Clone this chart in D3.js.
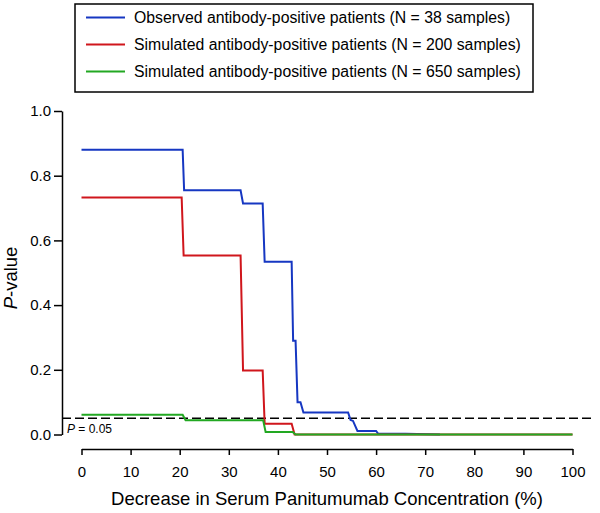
<!DOCTYPE html>
<html><head><meta charset="utf-8">
<script src="https://cdn.jsdelivr.net/npm/d3@7"></script>
<style>body{margin:0;background:#fff}svg{display:block;font-family:"Liberation Sans",Arial,sans-serif}</style>
</head><body><svg id="c" width="600" height="513"></svg>
<script>
const seriesNames = [
  "Observed antibody-positive patients (N = 38 samples)",
  "Simulated antibody-positive patients (N = 200 samples)",
  "Simulated antibody-positive patients (N = 650 samples)"
];
const seriesColors = ["#1637c2", "#d0161c", "#22a822"];
const observedX = [0,20.6,20.9,32.4,32.9,36.9,37.3,42.8,43.1,43.6,44.0,44.6,45.2,54.3,54.8,55.3,56.2,60.0,60.4,66.0,73.0];
const observedP = [0.88,0.88,0.755,0.755,0.714,0.714,0.534,0.534,0.29,0.29,0.10,0.10,0.068,0.068,0.045,0.042,0.011,0.011,0.003,0.002,0.0];
const sim200X = [0,20.4,20.8,32.4,32.9,36.9,37.3,42.8,43.4,100];
const sim200P = [0.733,0.733,0.553,0.553,0.198,0.198,0.033,0.033,0.0,0.0];
const sim650X = [0,20.6,21.2,37.0,37.5,43.0,43.6,100];
const sim650P = [0.061,0.061,0.044,0.044,0.008,0.008,0.0,0.0];
const xTicks = [0,10,20,30,40,50,60,70,80,90,100];
const yTicks = [0,0.2,0.4,0.6,0.8,1.0];
const threshold = 0.05;

const svg = d3.select("#c");
const x = d3.scaleLinear().domain([0,100]).range([81.5,572.5]);
const y = d3.scaleLinear().domain([0,1]).range([434.5,111]);

const ya = svg.append("g").attr("transform","translate(62,0)")
  .call(d3.axisLeft(y).tickValues(yTicks).tickFormat(d3.format(".1f")).tickSize(8).tickSizeOuter(0).tickPadding(3));
const xa = svg.append("g").attr("transform","translate(0,449)")
  .call(d3.axisBottom(x).tickValues(xTicks).tickSize(6).tickSizeOuter(0).tickPadding(11.5));
[ya,xa].forEach(a=>{
  a.selectAll("path,line").attr("stroke","#000").attr("stroke-width",1.5);
  a.selectAll("text").attr("font-size",15).attr("fill","#000").attr("font-family","'Liberation Sans',Arial,sans-serif");
});

svg.append("line").attr("x1",62).attr("x2",594).attr("y1",y(threshold)).attr("y2",y(threshold))
  .attr("stroke","#000").attr("stroke-width",1.5).attr("stroke-dasharray","9,4");

const pt = svg.append("text").attr("x",67).attr("y",433).attr("font-size",12);
pt.append("tspan").attr("font-style","italic").text("P");
pt.append("tspan").text(" = 0.05");

const line = d3.line().x(d=>x(d[0])).y(d=>y(d[1]));
const series = [
  d3.zip(observedX, observedP),
  d3.zip(sim200X, sim200P),
  d3.zip(sim650X, sim650P)
];
series.forEach((s,i)=>{
  svg.append("path").datum(s).attr("d",line).attr("fill","none")
    .attr("stroke",seriesColors[i]).attr("stroke-width",2).attr("stroke-linejoin","miter");
});

svg.append("text").attr("x",327).attr("y",505).attr("text-anchor","middle").attr("font-size",18.5)
  .text("Decrease in Serum Panitumumab Concentration (%)");
const yt = svg.append("text").attr("transform","translate(17,278) rotate(-90)").attr("text-anchor","middle").attr("font-size",18.5);
yt.append("tspan").attr("font-style","italic").text("P");
yt.append("tspan").text("-value");

const lg = svg.append("g");
lg.append("rect").attr("x",75).attr("y",4).attr("width",458).attr("height",88)
  .attr("fill","#fff").attr("stroke","#000").attr("stroke-width",1.5);
seriesNames.forEach((n,i)=>{
  const cy = 17.5 + i*27;
  lg.append("line").attr("x1",86).attr("x2",125).attr("y1",cy).attr("y2",cy)
    .attr("stroke",seriesColors[i]).attr("stroke-width",1.8);
  lg.append("text").attr("x",134).attr("y",cy+5.6).attr("font-size",15.8).text(n);
});
</script></body></html>
